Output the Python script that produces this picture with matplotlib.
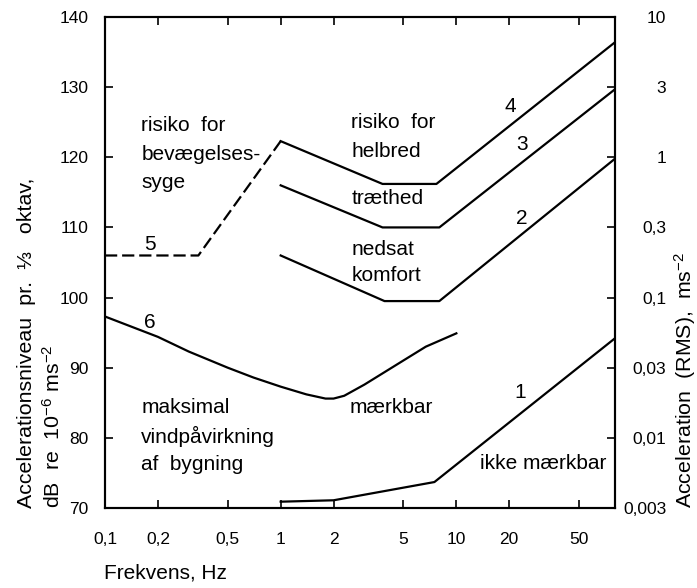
import numpy as np
import matplotlib
matplotlib.use('Agg')
import matplotlib.pyplot as plt

plt.rcParams['font.family'] = ['Liberation Sans', 'DejaVu Sans']
plt.rcParams['mathtext.fontset'] = 'custom'
plt.rcParams['mathtext.rm'] = 'Liberation Sans'
plt.rcParams['mathtext.it'] = 'Liberation Sans:italic'
plt.rcParams['mathtext.bf'] = 'Liberation Sans:bold'

# ---- data (frequency in Hz, level in dB re 1e-6 m/s^2) ----
f1 = [1.0, 2.0, 7.5, 80.0]
L1 = [70.9, 71.1, 73.7, 94.2]          # 1: ikke maerkbar / maerkbar
f2 = [1.0, 3.9, 8.0, 80.0]
L2 = [106.0, 99.5, 99.5, 119.8]        # 2: nedsat komfort
f3 = [1.0, 3.8, 8.0, 80.0]
L3 = [116.0, 110.0, 110.0, 129.7]      # 3: traethed
f4 = [1.0, 3.8, 7.7, 80.0]
L4 = [122.3, 116.2, 116.2, 136.4]      # 4: risiko for helbred
f5 = [0.1, 0.34, 1.0]
L5 = [106.0, 106.0, 122.3]             # 5: bevaegelsessyge (dashed)
f6 = [0.1, 0.2, 0.3, 0.5, 0.7, 1.0, 1.4, 1.8, 2.0, 2.3, 3.0, 4.9, 6.7, 10.0]
L6 = [97.3, 94.4, 92.3, 90.0, 88.6, 87.3, 86.2, 85.6, 85.6, 86.0, 87.6, 90.9, 93.0, 94.9]

xticks = [0.1, 0.2, 0.5, 1, 2, 5, 10, 20, 50]
xticklabels = ['0,1', '0,2', '0,5', '1', '2', '5', '10', '20', '50']
yticks = [70, 80, 90, 100, 110, 120, 130, 140]
acc_labels = ['0,003', '0,01', '0,03', '0,1', '0,3', '1', '3', '10']

fig = plt.figure(figsize=(6.97, 5.88), dpi=100)
ax = fig.add_axes([105/697, 80/588, 510/697, 491/588])

lw = 1.6
for f, L in [(f1, L1), (f2, L2), (f3, L3), (f4, L4), (f6, L6)]:
    ax.plot(f, L, color='black', lw=lw, solid_joinstyle='round')
ax.plot(f5, L5, color='black', lw=lw, linestyle=(0, (5.5, 2.2)))

ax.set_xscale('log')
ax.set_xlim(0.1, 80)
ax.set_ylim(70, 140)
ax.set_xticks(xticks)
ax.set_xticklabels(xticklabels)
ax.xaxis.set_minor_locator(matplotlib.ticker.NullLocator())
ax.set_yticks(yticks)
ax.tick_params(axis='both', direction='in', length=5.5, width=1.2,
               labelsize=12.5, top=True, right=False)
ax.tick_params(axis='y', pad=12)
ax.tick_params(axis='x', pad=17.5)
for s in ax.spines.values():
    s.set_linewidth(1.5)

ax2 = ax.twinx()
ax2.set_ylim(70, 140)
ax2.set_yticks(yticks)
ax2.set_yticklabels(acc_labels)
ax2.tick_params(axis='y', direction='in', length=5.5, width=1.2,
                labelsize=12.5, pad=37)
for lab in ax2.get_yticklabels():
    lab.set_horizontalalignment('right')
for s in ax2.spines.values():
    s.set_linewidth(1.5)

fs = 15
def t(x, y, s, **kw):
    ax.text(x, y, s, fontsize=fs, va='center', ha=kw.pop('ha', 'left'), **kw)

t(0.161, 124.6, 'risiko  for')
t(0.161, 120.4, 'bevægelses-')
t(0.161, 116.4, 'syge')
t(0.18, 107.6, '5', ha='center')
t(0.18, 96.4, '6', ha='center')
t(2.52, 124.9, 'risiko  for')
t(2.52, 120.8, 'helbred')
t(2.52, 114.1, 'træthed')
t(2.52, 106.8, 'nedsat')
t(2.52, 103.1, 'komfort')
t(2.46, 84.3, 'mærkbar')
t(0.161, 84.3, 'maksimal')
t(0.161, 80.2, 'vindpåvirkning')
t(0.161, 76.2, 'af  bygning')
t(13.6, 76.4, 'ikke mærkbar')
t(23.0, 86.4, '1', ha='center')
t(23.6, 111.3, '2', ha='center')
t(23.6, 121.8, '3', ha='center')
t(20.2, 127.2, '4', ha='center')

fig.text(104/697, 1 - 573/588, 'Frekvens, Hz', fontsize=fs, ha='left', va='center')
fig.text(27/697, 1 - 508/588, 'Accelerationsniveau  pr.  ⅓   oktav,', fontsize=15.4,
         rotation=90, ha='center', va='bottom')
fig.text(53/697, 1 - 508/588, 'dB  re  10$^{-6}$ ms$^{-2}$', fontsize=15.4,
         rotation=90, ha='center', va='bottom')
fig.text(685/697, 1 - 508/588, 'Acceleration  (RMS),  ms$^{-2}$', fontsize=15.4,
         rotation=90, ha='center', va='bottom')

fig.savefig('out.png', dpi=100, facecolor='white')
